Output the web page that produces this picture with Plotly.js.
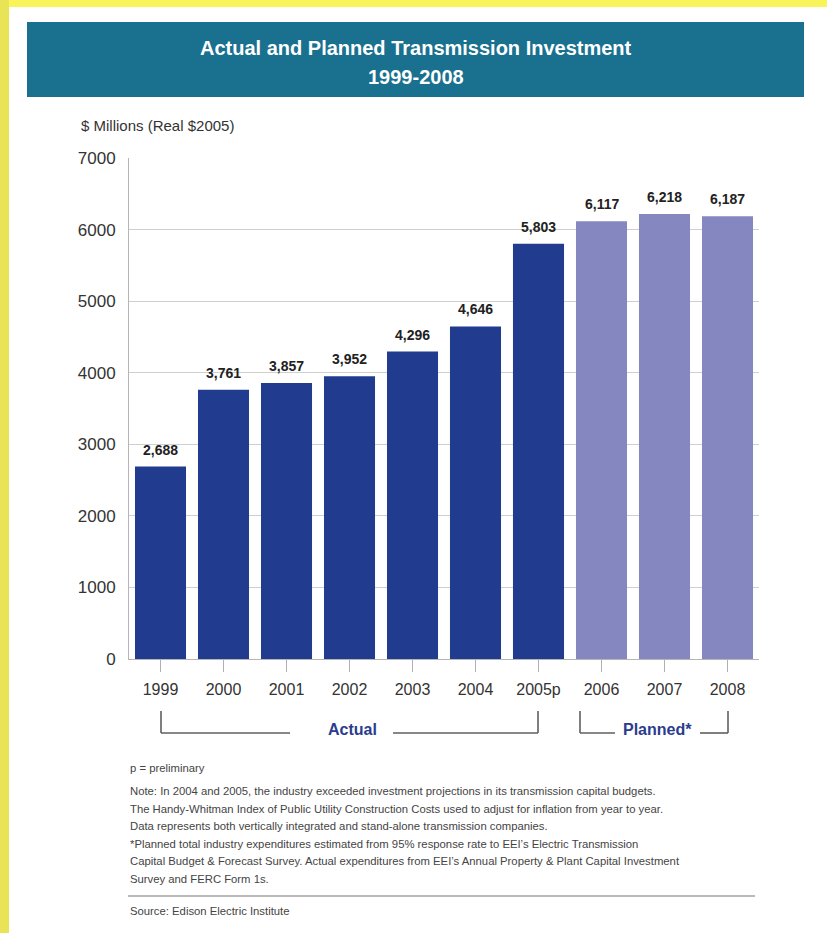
<!DOCTYPE html>
<html>
<head>
<meta charset="utf-8">
<script src="https://cdn.plot.ly/plotly-3.0.1.min.js"></script>
<style>html,body{margin:0;padding:0;background:#fff;}#chart{width:827px;height:933px;}</style>
</head>
<body>
<div id="chart"></div>
<script>
// ---- data ----
var actualYears = ['1999','2000','2001','2002','2003','2004','2005p'];
var actualValues = [2688, 3761, 3857, 3952, 4296, 4646, 5803];
var plannedYears = ['2006','2007','2008'];
var plannedValues = [6117, 6218, 6187];
var yTicks = [0,1000,2000,3000,4000,5000,6000,7000];

var titleLine1 = 'Actual and Planned Transmission Investment';
var titleLine2 = '1999-2008';
var yAxisLabel = '$ Millions (Real $2005)';
var noteLines = [
  'Note: In 2004 and 2005, the industry exceeded investment projections in its transmission capital budgets.',
  'The Handy-Whitman Index of Public Utility Construction Costs used to adjust for inflation from year to year.',
  'Data represents both vertically integrated and stand-alone transmission companies.',
  '*Planned total industry expenditures estimated from 95% response rate to EEI\u2019s Electric Transmission',
  'Capital Budget & Forecast Survey. Actual expenditures from EEI\u2019s Annual Property & Plant Capital Investment',
  'Survey and FERC Form 1s.'
];

// ---- helpers (pixel -> paper) ----
var W = 827, H = 933;
function px(x){ return x / W; }
function py(y){ return 1 - y / H; }
var FONT = 'Liberation Sans, Arial, sans-serif';
function fmt(v){ return v.toLocaleString('en-US'); }
var allYears = actualYears.concat(plannedYears);

var traces = [
  {type:'bar', x: actualYears, y: actualValues, marker:{color:'#213b8f'}, hoverinfo:'x+y'},
  {type:'bar', x: plannedYears, y: plannedValues, marker:{color:'#8587c0'}, hoverinfo:'x+y'}
];

var annotations = [];
function addValueLabels(xs, ys){
  for (var i=0;i<xs.length;i++){
    annotations.push({x: allYears.indexOf(xs[i]), y: ys[i], xref:'x', yref:'y', text: '<b>'+fmt(ys[i])+'</b>',
      showarrow:false, yanchor:'bottom', yshift:7,
      font:{family:FONT, size:14, color:'#222'}});
  }
}
addValueLabels(actualYears, actualValues);
addValueLabels(plannedYears, plannedValues);

// title banner text
annotations.push({xref:'paper', yref:'paper', x:px(416), y:py(48), text:'<b>'+titleLine1+'</b>',
  showarrow:false, xanchor:'center', yanchor:'middle', font:{family:FONT, size:20, color:'#ffffff'}});
annotations.push({xref:'paper', yref:'paper', x:px(416), y:py(77), text:'<b>'+titleLine2+'</b>',
  showarrow:false, xanchor:'center', yanchor:'middle', font:{family:FONT, size:20, color:'#ffffff'}});
// y axis label
annotations.push({xref:'paper', yref:'paper', x:px(79), y:py(125), text:yAxisLabel,
  showarrow:false, xanchor:'left', yanchor:'middle', font:{family:FONT, size:15, color:'#333'}});
// bracket labels
annotations.push({xref:'paper', yref:'paper', x:px(352), y:py(729), text:'<b>Actual</b>',
  showarrow:false, xanchor:'center', yanchor:'middle', font:{family:FONT, size:16, color:'#2b3c8e'}});
annotations.push({xref:'paper', yref:'paper', x:px(657), y:py(729), text:'<b>Planned*</b>',
  showarrow:false, xanchor:'center', yanchor:'middle', font:{family:FONT, size:16, color:'#2b3c8e'}});
// notes
var NOTE_FONT = {family:FONT, size:11.3, color:'#444'};
annotations.push({xref:'paper', yref:'paper', x:px(128), y:py(768), text:'p = preliminary',
  showarrow:false, xanchor:'left', yanchor:'middle', font:NOTE_FONT});
for (var k=0;k<noteLines.length;k++){
  annotations.push({xref:'paper', yref:'paper', x:px(128), y:py(791 + k*17.6), text:noteLines[k],
    showarrow:false, xanchor:'left', yanchor:'middle', font:NOTE_FONT});
}
annotations.push({xref:'paper', yref:'paper', x:px(128), y:py(911), text:'Source: Edison Electric Institute',
  showarrow:false, xanchor:'left', yanchor:'middle', font:NOTE_FONT});

var LC = '#5f5f5f';
function seg(x0,y0,x1,y1,c,w){ return {type:'line', xref:'paper', yref:'paper', x0:px(x0), y0:py(y0), x1:px(x1), y1:py(y1), line:{color:c||LC, width:w||1.6}}; }
var shapes = [
  // yellow frame
  {type:'rect', xref:'paper', yref:'paper', x0:0, x1:1, y0:py(7), y1:1, fillcolor:'#f8f45a', line:{width:0}, layer:'below'},
  {type:'rect', xref:'paper', yref:'paper', x0:0, x1:px(9), y0:0, y1:1, fillcolor:'#e8e455', line:{width:0}, layer:'below'},
  // banner
  {type:'rect', xref:'paper', yref:'paper', x0:px(27), x1:px(804), y0:py(97), y1:py(22), fillcolor:'#19708f', line:{width:0}, layer:'below'},
  // Actual bracket
  seg(161,711,161,733), seg(161,733,290,733), seg(393,733,538,733), seg(538,733,538,711),
  // Planned bracket
  seg(580,711,580,733), seg(580,733,615,733), seg(700,733,728,733), seg(728,733,728,711),
  // separator
  seg(128,896,755,896,'#777',1.2)
];

var layout = {
  width: W, height: H,
  margin:{l:0,r:0,t:0,b:0},
  paper_bgcolor:'#ffffff', plot_bgcolor:'#ffffff',
  showlegend:false,
  barmode:'overlay', bargap:0.19,
  font:{family:FONT, color:'#333'},
  xaxis:{type:'category', categoryorder:'array', categoryarray: allYears, range:[-0.5, allYears.length-0.5],
    domain:[px(129), px(759)], showline:true, linecolor:'#b5b5b5', linewidth:1,
    ticks:'outside', ticklen:12, tickcolor:'#b0b0b0', tickwidth:1, ticklabelstandoff:4,
    tickfont:{family:FONT, size:16, color:'#333'}, showgrid:false, fixedrange:true},
  yaxis:{domain:[py(659), py(158)], range:[0,7000], tickvals:yTicks, ticktext:yTicks.map(String),
    showline:true, linecolor:'#b5b5b5', linewidth:1, showgrid:true, gridcolor:'#cfcfcf', gridwidth:1,
    zeroline:false, ticks:'', ticklabelstandoff:9, tickfont:{family:FONT, size:17, color:'#333'}, fixedrange:true},
  annotations: annotations,
  shapes: shapes
};

Plotly.newPlot('chart', traces, layout, {displayModeBar:false, staticPlot:true});
</script>
</body>
</html>
